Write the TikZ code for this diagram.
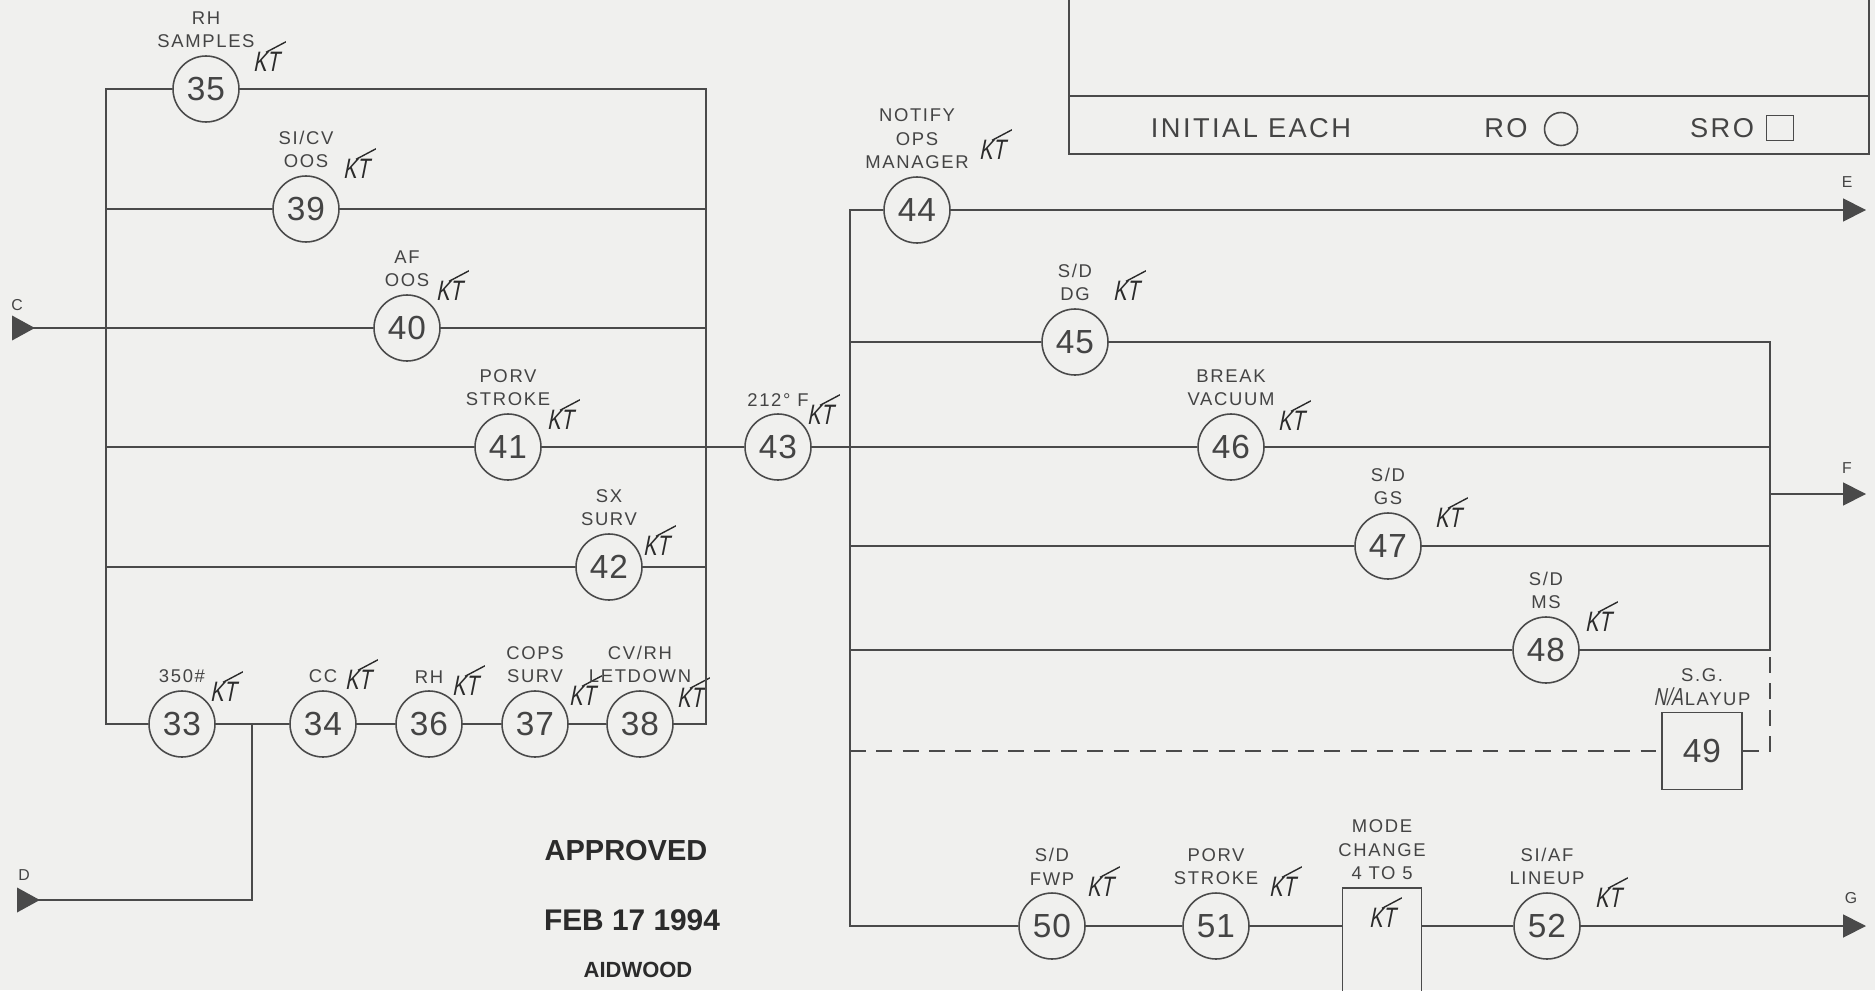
\documentclass[tikz,border=0pt]{standalone}
\usepackage{fontspec}
\setmainfont{Liberation Sans}
\newfontfamily\cadfont{Liberation Sans}[LetterSpace=9]
\newfontfamily\numfont{Liberation Sans}[LetterSpace=3]
\newfontfamily\handfont{Liberation Sans}[FakeStretch=0.72,FakeSlant=0.2]
\usepackage{xcolor}
\definecolor{Paper}{HTML}{F0F0EE}
\definecolor{InkLine}{HTML}{4A4A4A}
\definecolor{InkText}{HTML}{444444}
\definecolor{InkStamp}{HTML}{2B2B2B}
\usepackage{tikz}
\usetikzlibrary{positioning,arrows.meta}

\begin{document}
\begin{tikzpicture}[
  x=0.02cm, y=-0.02cm,
  conn/.style={line width=1pt, color=InkLine},
  dconn/.style={conn, dash pattern=on 9pt off 6pt},
  outarr/.style={conn, -{Triangle[length=13pt, width=13pt]}},
  inarr/.style={conn, {Triangle[reversed, length=13pt, width=14pt]}-},
  stepc/.style={circle, draw=InkLine, line width=0.9pt, minimum size=1.32cm, inner sep=0pt,
                text=InkText, font=\numfont\fontsize{19}{19}\selectfont},
  stepb/.style={rectangle, draw=InkLine, line width=0.9pt, minimum width=1.6cm, minimum height=1.54cm,
                inner sep=0pt, text=InkText, font=\numfont\fontsize{19}{19}\selectfont},
  modebox/.style={rectangle, draw=InkLine, line width=0.9pt, minimum width=1.58cm, minimum height=2.44cm},
  lbl/.style={font=\cadfont\fontsize{10.5}{13.4}\selectfont, text=InkText, align=center, inner sep=1pt},
  termlbl/.style={font=\cadfont\fontsize{9}{9}\selectfont, text=InkText, inner sep=0pt},
  boxtxt/.style={font=\cadfont\fontsize{15.5}{15.5}\selectfont, text=InkText, inner sep=0pt},
  initials/.style={font=\handfont\fontsize{16}{16}\selectfont, text=InkStamp, inner xsep=4pt, inner ysep=6pt,
                   path picture={\draw[line width=0.8pt, InkStamp] ([yshift=-6pt]path picture bounding box.north)
                                 -- (path picture bounding box.north east);}},
  stamp/.style={font=\bfseries\fontsize{#1}{#1}\selectfont, text=InkStamp, inner sep=0pt},
]
  \useasboundingbox (0,0) rectangle (1875,990);
  \clip (0,0) rectangle (1875,990);
  \fill[Paper] (0,0) rectangle (1875,990);

  % Left ladder: steps 35 to 42
  \node[stepc] (c35) at (206,89) {35};
  \node[lbl, above=0.1cm of c35] (l35) {RH\\SAMPLES};
  \node[initials] (k35) at (266,62) {KT};

  \node[stepc] (c39) at (306,209) {39};
  \node[lbl, above=0.1cm of c39] (l39) {SI/CV\\OOS};
  \node[initials] (k39) at (356,169) {KT};

  \node[stepc] (c40) at (407,328) {40};
  \node[lbl, above=0.1cm of c40] (l40) {AF\\OOS};
  \node[initials] (k40) at (449,291) {KT};

  \node[stepc] (c41) at (508,447) {41};
  \node[lbl, above=0.1cm of c41] (l41) {PORV\\STROKE};
  \node[initials] (k41) at (560,420) {KT};

  \node[stepc] (c42) at (609,567) {42};
  \node[lbl, above=0.1cm of c42] (l42) {SX\\SURV};
  \node[initials] (k42) at (656,546) {KT};

  % Bottom chain: steps 33 to 38
  \node[stepc] (c33) at (182,724) {33};
  \node[lbl, above=0.1cm of c33] (l33) {350\#};
  \node[initials] (k33) at (223,692) {KT};

  \node[stepc] (c34) at (323,724) {34};
  \node[lbl, above=0.1cm of c34] (l34) {CC};
  \node[initials] (k34) at (358,680) {KT};

  \node[stepc] (c36) at (429,724) {36};
  \node[lbl, above=0.1cm of c36] (l36) {RH};
  \node[initials] (k36) at (465,686) {KT};

  \node[stepc] (c37) at (535,724) {37};
  \node[lbl, above=0.1cm of c37] (l37) {COPS\\SURV};
  \node[initials] (k37) at (582,696) {KT};

  \node[stepc] (c38) at (640,724) {38};
  \node[lbl, above=0.1cm of c38] (l38) {CV/RH\\LETDOWN};
  \node[initials] (k38) at (690,698) {KT};

  % Step 43
  \node[stepc] (c43) at (778,447) {43};
  \node[lbl, above=0.1cm of c43] (l43) {212° F};
  \node[initials] (k43) at (820,415) {KT};

  % Right ladder: steps 44 to 49
  \node[stepc] (c44) at (917,210) {44};
  \node[lbl, above=0.1cm of c44] (l44) {NOTIFY\\OPS\\MANAGER};
  \node[initials] (k44) at (992,150) {KT};

  \node[stepc] (c45) at (1075,342) {45};
  \node[lbl, above=0.1cm of c45] (l45) {S/D\\DG};
  \node[initials] (k45) at (1126,291) {KT};

  \node[stepc] (c46) at (1231,447) {46};
  \node[lbl, above=0.1cm of c46] (l46) {BREAK\\VACUUM};
  \node[initials] (k46) at (1291,421) {KT};

  \node[stepc] (c47) at (1388,546) {47};
  \node[lbl, above=0.1cm of c47] (l47) {S/D\\GS};
  \node[initials] (k47) at (1448,518) {KT};

  \node[stepc] (c48) at (1546,650) {48};
  \node[lbl, above=0.1cm of c48] (l48) {S/D\\MS};
  \node[initials] (k48) at (1598,622) {KT};

  \node[stepb] (b49) at (1702,751) {49};
  \node[lbl, above=0.08cm of b49] (l49) {S.G.\\{\handfont\fontsize{14}{13}\selectfont N/A}\kern1pt LAYUP};

  % Bottom row: steps 50 to 52
  \node[stepc] (c50) at (1052,926) {50};
  \node[lbl, above=0.1cm of c50] (l50) {S/D\\FWP};
  \node[initials] (k50) at (1100,887) {KT};

  \node[stepc] (c51) at (1216,926) {51};
  \node[lbl, above=0.1cm of c51] (l51) {PORV\\STROKE};
  \node[initials] (k51) at (1282,887) {KT};

  \node[modebox] (mode) at (1382,949) {};
  \node[lbl, above=0.1cm of mode] (lmode) {MODE\\CHANGE\\4 TO 5};
  \node[initials] (kmode) at (1382,918) {KT};

  \node[stepc] (c52) at (1547,926) {52};
  \node[lbl, above=0.1cm of c52] (l52) {SI/AF\\LINEUP};
  \node[initials] (k52) at (1608,898) {KT};

  % Terminals
  \coordinate (inC) at (12,328);
  \coordinate (inD) at (17,900);
  \coordinate (outE) at (1866,210);
  \coordinate (outF) at (1866,494);
  \coordinate (outG) at (1866,926);
  \node[termlbl] (tC) at (17,305) {C};
  \node[termlbl] (tD) at (24,875) {D};
  \node[termlbl] (tE) at (1847,182) {E};
  \node[termlbl] (tF) at (1847,468) {F};
  \node[termlbl] (tG) at (1851,898) {G};

  % Ladder corners
  \coordinate (lt) at (106,89);
  \coordinate (lb) at (106,724);
  \coordinate (rt) at (706,89);
  \coordinate (rb) at (706,724);
  \coordinate (jD) at (252,724);
  \coordinate (ql) at (850,210);
  \coordinate (qb) at (850,926);
  \coordinate (qr) at (1770,342);
  \coordinate (qm) at (1770,650);

  % Initial box
  \draw[conn] (1069,-5) -- (1069,154) -- (1869,154) -- (1869,-5);
  \draw[conn] (1069,96) -- (1869,96);
  \node[boxtxt] (initeach) at (1251,128) {INITIAL EACH};
  \node[boxtxt] (ro) at (1506,128) {RO};
  \node[circle, draw=InkLine, line width=0.9pt, minimum size=0.66cm] (rosym) at (1561,129) {};
  \node[boxtxt] (sro) at (1722,128) {SRO};
  \node[rectangle, draw=InkLine, line width=0.9pt, minimum width=0.54cm, minimum height=0.5cm] (srosym) at (1780,128) {};

  % Stamp
  \node[stamp=16.5] (appr) at (626,851) {APPROVED};
  \node[stamp=17] (date) at (632,920) {FEB 17 1994};
  \node[stamp=12.5] (brd) at (638,970) {AIDWOOD};

  % Left ladder lines
  \draw[conn] (c35) -- (lt) -- (lb) -- (c33);
  \draw[conn] (c35) -- (rt) -- (rb) -- (c38);
  \draw[conn] (lt |- c39) -- (c39) -- (rt |- c39);
  \draw[inarr] (inC) -- (c40);
  \draw[conn] (c40) -- (rt |- c40);
  \draw[conn] (lt |- c41) -- (c41) -- (c43) -- (c46) -- (qr |- c46);
  \draw[conn] (lt |- c42) -- (c42) -- (rt |- c42);
  \draw[conn] (c33) -- (c34) -- (c36) -- (c37) -- (c38);
  \draw[inarr] (inD) -| (jD);

  % Right ladder lines
  \draw[outarr] (c44) -- (outE);
  \draw[conn] (c44) -- (ql) -- (qb) -- (c50);
  \draw[conn] (ql |- c45) -- (c45) -- (qr) -- (qm) -- (c48);
  \draw[conn] (ql |- c48) -- (c48);
  \draw[conn] (ql |- c47) -- (c47) -- (qr |- c47);
  \draw[outarr] (qr |- outF) -- (outF);
  \draw[dconn] (ql |- b49) -- (b49);
  \draw[dconn] (b49) -- (qr |- b49) -- (qm);
  \draw[conn] (c50) -- (c51) -- (c51 -| mode.west);
  \draw[conn] (mode.east |- c52) -- (c52);
  \draw[outarr] (c52) -- (outG);
\end{tikzpicture}
\end{document}
